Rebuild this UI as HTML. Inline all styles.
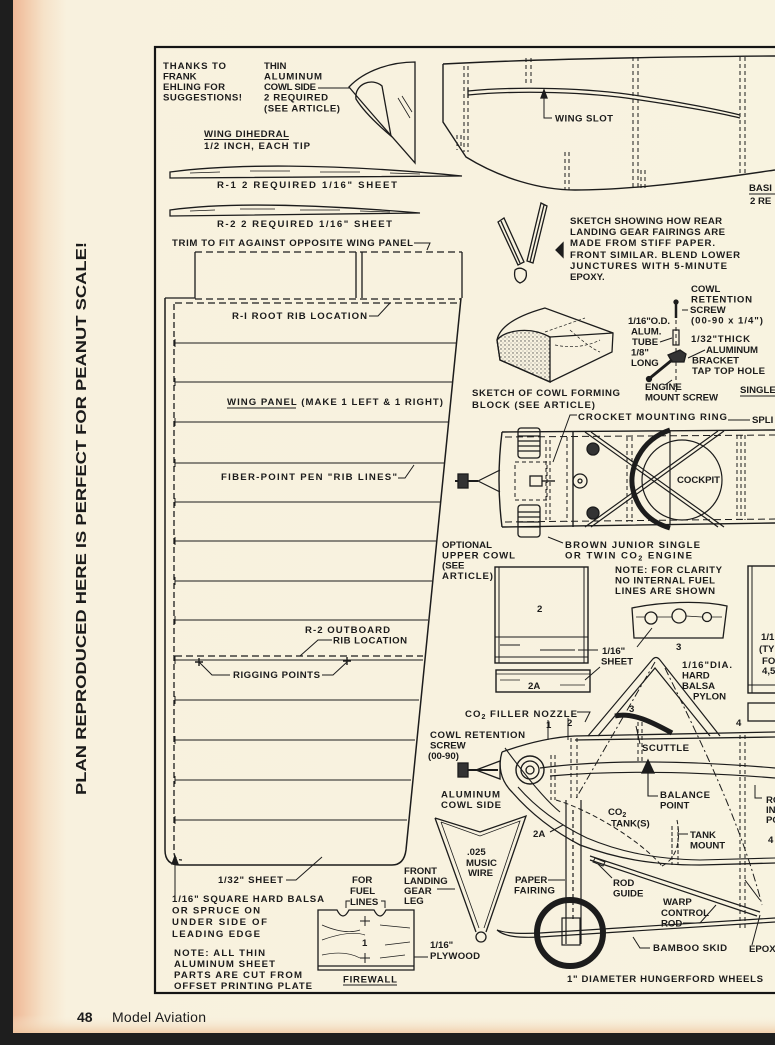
<!DOCTYPE html>
<html><head><meta charset="utf-8"><style>
html,body{margin:0;padding:0;background:#1e1e1e;}
svg{display:block;}
.t{font-family:"Liberation Sans",sans-serif;font-weight:bold;font-size:9.6px;fill:#1b1b1b;}
.s{font-family:"Liberation Sans",sans-serif;font-weight:bold;font-size:7px;fill:#1b1b1b;}
</style></head><body>
<svg width="775" height="1045" viewBox="0 0 775 1045" xmlns="http://www.w3.org/2000/svg">
<defs>
<linearGradient id="lg" x1="0" x2="1" y1="0" y2="0">
<stop offset="0" stop-color="#eeb796"/><stop offset="0.015" stop-color="#f2c8a8"/><stop offset="0.04" stop-color="#f6e2c8"/><stop offset="0.07" stop-color="#f8f1de"/><stop offset="1" stop-color="#f8f3e0"/>
</linearGradient>
<linearGradient id="bg" x1="0" x2="0" y1="0" y2="1">
<stop offset="0" stop-color="#f8f3e0" stop-opacity="0"/><stop offset="1" stop-color="#efc6a0" stop-opacity="0.8"/>
</linearGradient>
<pattern id="dots" width="4" height="4" patternUnits="userSpaceOnUse"><circle cx="1" cy="1" r="0.7" fill="#555"/><circle cx="3" cy="3" r="0.5" fill="#777"/></pattern>
</defs>
<rect x="0" y="0" width="775" height="1045" fill="#1e1e1e"/>
<rect x="13" y="0" width="762" height="1033" fill="url(#lg)"/>
<rect x="13" y="1015" width="762" height="18" fill="url(#bg)"/>

<!-- vertical title -->
<text class="t" transform="translate(86,795) rotate(-90)" style="font-size:15px" textLength="553" lengthAdjust="spacingAndGlyphs">PLAN REPRODUCED HERE IS PERFECT FOR PEANUT SCALE!</text>

<!-- footer -->
<text x="77" y="1022" style="font-family:'Liberation Sans',sans-serif;font-weight:bold;font-size:14px;fill:#1b1b1b">48</text>
<text x="112" y="1022" style="font-family:'Liberation Sans',sans-serif;font-size:14px;fill:#1b1b1b" textLength="94">Model Aviation</text>

<!-- frame -->
<rect x="155" y="47" width="700" height="946" fill="none" stroke="#151515" stroke-width="2.2"/>

<g fill="none" stroke="#1c1c1c" stroke-width="1.3">
<!-- cowl side top-left -->
<path d="M349,87 C 365,70 392,62 415,62 L415,163 C 395,140 370,112 349,87 Z"/>
<path d="M356,99 C 354,84 372,77 382,86 L391,136 C 378,125 364,112 356,99 Z"/>
<path d="M398,98 L410,118 M402,96 L412,112" stroke-width="0.8"/>
<path d="M318,88 L350,88" stroke-width="1"/>
<!-- airfoils -->
<path d="M170,178 L170,172 C 230,164 330,163 462,176 C 360,176 260,177 170,178 Z"/>
<path d="M190,173 L220,172 M250,171 L290,171 M320,172 L360,172 M390,173 L420,174" stroke-width="0.8"/>
<path d="M170,216 L170,210 C 220,203 300,203 420,213 C 340,214 260,215 170,216 Z"/>
<path d="M190,211 L215,210 M240,209 L275,209 M300,210 L340,210 M360,211 L390,212" stroke-width="0.8"/>
<path d="M204,139.5 L289,139.5" stroke-width="1"/>
<!-- trim leader -->
<path d="M414,243 L430,243 L427,250" stroke-width="1"/>
<!-- wing panel top box -->
<path d="M195,252 L195,298 L165,298 M462,252 L462,298 M356,252 L356,298 M362,252 L362,298"/>
<path d="M195,252 L462,252" stroke-dasharray="7 4"/>
<path d="M195,299 L461,299 M175,303 L461,303" stroke-dasharray="7 4"/>
<!-- panel outline -->
<path d="M165,298 L165,850 Q165,865 180,865 L392,865 Q404,865 406,850 L461,298" stroke-width="1.5"/>
<path d="M174,304 L174,852 Q174,860 182,860" stroke-dasharray="6 3"/>
<!-- rib lines -->
<path d="M175,343 L456,343 M175,382 L452,382 M175,422 L448,422 M175,463 L444,463 M175,502 L440,502 M175,541 L436,541 M175,581 L432,581 M175,620 L428,620 M175,660 L423,660 M175,700 L419,700 M175,740 L415,740 M175,780 L411,780 M175,820 L407,820" stroke-width="1.1"/>
<path d="M175,339 L175,347 M175,378 L175,386 M175,418 L175,426 M175,459 L175,467 M175,498 L175,506 M175,537 L175,545 M175,577 L175,585 M175,616 L175,624 M175,656 L175,664 M175,696 L175,704 M175,736 L175,744 M175,776 L175,784 M175,816 L175,824" stroke-width="1"/>
<path d="M175,656 L423,656" stroke-dasharray="7 4"/>
<!-- leaders in panel -->
<path d="M369,316 L378,316 L390,303" stroke-width="1"/>
<path d="M227,408 L296,408" stroke-width="1"/>
<path d="M398,478 L405,478 L414,465" stroke-width="1"/>
<path d="M332,640 L318,640 L300,656" stroke-width="1"/>
<path d="M230,675 L212,675 L199,662 M322,675 L333,675 L347,662" stroke-width="1"/>
<path d="M195,662 L203,662 M199,658 L199,666 M343,661 L351,661 M347,657 L347,665" stroke-width="1.4"/>
<path d="M286,880 L296,880 L322,857" stroke-width="1"/>
<path d="M175,897 L175,858" stroke-width="1"/>
<path d="M172,864 L175,856 L178,864 Z" fill="#1c1c1c"/>
<!-- firewall -->
<path d="M318,910 L337,910 Q343,922 349,910 L374,910 Q380,922 386,910 L414,910 L414,970 L318,970 Z"/>
<path d="M318,966 L414,966"/>
<path d="M322,925 Q345,935 360,930 M322,940 Q350,930 365,935 M380,925 L410,928 M385,945 L410,942 M322,955 Q345,950 360,958 M380,958 L405,955" stroke-width="0.7"/>
<path d="M360,921 L370,921 M365,916 L365,926 M360,958 L370,958 M365,953 L365,963" stroke-width="1"/>
<path d="M343,985 L397,985" stroke-width="1"/>
<path d="M346,908 L346,901 L350,901 M385,908 L385,901 L381,901" stroke-width="1"/>
<path d="M414,957 L428,957" stroke-width="1"/>
<path d="M437,889 L455,889" stroke-width="1"/>
<!-- music wire -->
<path d="M435,818 L480,832 L526,816 L486,932 M435,818 L476,932"/>
<path d="M441,822 L480,836 L520,821 L484,928 M441,822 L479,928" stroke-width="0.8"/>
<circle cx="481" cy="937" r="5"/>

<!-- side view fuselage top -->
<path d="M443,64 C 520,60 640,57 775,56" stroke-width="1.4"/>
<path d="M443,64 L443,122 L466,157 C 500,178 540,190 575,190 C 640,190 720,178 775,170" stroke-width="1.4"/>
<path d="M468,91 C 520,86 590,88 640,96 C 680,102 720,110 740,115 M468,95 C 520,90 590,92 640,100 C 680,106 720,113 740,118 M468,88 L468,98"/>
<path d="M464,66 L464,152 M468,66 L468,152 M526,58 L526,86 M531,58 L531,86 M633,57 L633,190 M638,57 L638,190 M740,57 L740,173 M745,57 L745,173 M565,152 L565,190 M569,152 L569,190 M641,170 L641,190 M645,170 L645,190 M457,135 L457,150 M461,135 L461,150" stroke-dasharray="4 3" stroke-width="1"/>
<path d="M544,93 L544,118 L552,118" stroke-width="1"/>
<path d="M541,98 L544,90 L547,98 Z" fill="#1c1c1c"/>
<path d="M749,194 L775,194" stroke-width="1"/>
<!-- fairing sketches -->
<path d="M498,222 L504,218 L524,262 L518,265 Z M501,221 L520,263"/>
<path d="M541,203 L547,206 L533,263 L527,261 Z M544,205 L530,262"/>
<path d="M515,270 Q520,266 526,271 Q528,280 520,283 Q513,280 515,270 Z"/>
<path d="M563,243 L563,257 L556,250 Z" fill="#1c1c1c"/>
<!-- cowl forming block -->
<path d="M497,340 C 500,325 520,315 545,308 L613,333 L612,352 L550,382 L500,360 Z"/>
<path d="M497,340 C 505,330 530,326 550,337 L550,382 L500,360 Z" fill="url(#dots)"/>
<path d="M550,337 L613,333"/>
<path d="M545,332 L585,318 M555,345 Q580,350 600,340 M570,330 Q590,348 600,352" stroke-width="0.7" stroke-dasharray="3 2"/>
<!-- screw detail -->
<path d="M676,303 L676,318" stroke-width="2.5"/>
<circle cx="676" cy="302" r="2" fill="#1c1c1c"/>
<path d="M676,320 L676,392" stroke-dasharray="4 3" stroke-width="1"/>
<rect x="673" y="330" width="6" height="15" stroke-width="1.2"/>
<path d="M668,355 L680,350 L686,354 L684,362 L672,362 Z" fill="#333"/>
<path d="M650,378 L672,360" stroke-width="3"/>
<circle cx="649" cy="379" r="2.5" fill="#1c1c1c"/>
<path d="M660,342 L672,338 M688,310 L682,310 M705,350 L688,358 M672,380 L665,385" stroke-width="1"/>
<path d="M740,396 L775,396" stroke-width="1"/>

<!-- top view fuselage -->
<path d="M502,432 L775,430 M502,527 L775,523" stroke-width="1.4"/>
<path d="M502,432 Q496,480 502,527" stroke-width="1.4"/>
<path d="M505,437 L775,435 M505,522 L775,519" stroke-dasharray="7 4" stroke-width="1"/>
<path d="M573,432 L573,527" stroke-width="1.4"/>
<path d="M546,440 L546,520 M550,440 L550,520 M567,437 L567,522 M627,437 L627,522 M632,437 L632,522 M737,435 L737,520 M741,435 L741,520 M745,435 L745,520" stroke-dasharray="4 3" stroke-width="1"/>
<path d="M670,431 L670,525" stroke-width="1.2"/>
<path d="M585,432 L718,527 M585,527 L718,431 M591,432 L724,527 M591,527 L724,431" stroke-width="1.2"/>
<path d="M670,430 C 640,440 628,470 633,490 C 638,510 650,522 670,528" stroke-width="5"/>
<circle cx="682" cy="480" r="40" stroke-width="1.2"/>
<circle cx="593" cy="449" r="6" fill="#333"/>
<circle cx="593" cy="513" r="6" fill="#333"/>
<circle cx="580" cy="481" r="7"/>
<circle cx="580" cy="481" r="2"/>
<!-- engine top view -->
<rect x="518" y="428" width="22" height="30" rx="3"/>
<path d="M518,436 L540,436 M518,441 L540,441 M518,446 L540,446 M518,451 L540,451" stroke-width="1.2"/>
<rect x="518" y="505" width="22" height="32" rx="3"/>
<path d="M518,512 L540,512 M518,517 L540,517 M518,522 L540,522 M518,527 L540,527" stroke-width="1.2"/>
<rect x="515" y="462" width="32" height="38" stroke-dasharray="4 3" stroke-width="1"/>
<rect x="530" y="476" width="12" height="10"/>
<path d="M542,481 L555,481" stroke-width="1.4"/>
<path d="M455,481 L478,481" stroke-width="2"/>
<rect x="458" y="474" width="10" height="14" fill="#333"/>
<path d="M478,481 L500,470 M478,481 L500,492" stroke-width="1.2"/>
<path d="M563,543 L548,537 M577,415 L570,415 L553,462 M728,420 L750,420" stroke-width="1"/>

<!-- box 2 -->
<rect x="495" y="567" width="93" height="96" stroke-width="1.4"/>
<path d="M499,567 L499,663 M584,567 L584,663 M495,637 L588,637 M495,657 L588,657 M500,645 L520,645 M540,650 L575,650" stroke-width="1"/>
<rect x="496" y="670" width="94" height="22" stroke-width="1.4"/>
<path d="M496,674 L590,674 M500,680 L520,680 M560,685 L585,685" stroke-width="0.8"/>
<path d="M598,650 L578,650 M637,647 L652,628 M600,667 L585,680" stroke-width="1"/>
<!-- instrument panel -->
<path d="M632,608 C 660,602 700,600 727,606 L723,638 L634,638 Z" stroke-width="1.3"/>
<circle cx="651" cy="618" r="6"/><circle cx="679" cy="616" r="7"/><circle cx="707" cy="617" r="4.5"/>
<path d="M636,617 L645,617 M657,617 L672,617 M686,616 L702,617 M712,617 L722,617" stroke-width="0.8"/>
<!-- right partial boxes -->
<rect x="748" y="566" width="40" height="127" stroke-width="1.4"/>
<path d="M752,566 L752,693 M748,685 L780,685" stroke-width="1"/>
<rect x="748" y="703" width="40" height="18" stroke-width="1.3"/>

<!-- side view lower -->
<path d="M502,752 C 530,742 555,737 575,736 L775,732 M575,740 L775,737" stroke-width="1.3"/>
<path d="M540,768 C 600,760 680,760 775,768 M550,776 C 620,770 700,772 775,778" stroke-width="1.2"/>
<path d="M502,752 C 498,765 500,780 512,792 C 532,815 555,832 580,845 C 615,858 650,865 700,865 L775,863" stroke-width="1.3"/>
<path d="M518,787 C 538,810 562,826 587,838 C 620,852 655,859 700,860 L775,858" stroke-width="1.1"/>
<path d="M505,748 C 525,775 545,800 560,812" stroke-width="1.1"/>
<circle cx="530" cy="770" r="14" stroke-width="1.4"/>
<circle cx="530" cy="770" r="9"/><circle cx="530" cy="770" r="4"/>
<path d="M462,770 L498,770" stroke-width="2"/>
<rect x="458" y="763" width="10" height="14" fill="#333"/>
<path d="M476,770 L500,761 L500,779 Z"/>
<path d="M588,736 L652,660 Q656,655 660,660 L720,736 M598,736 L655,668 L710,736" stroke-width="1.2"/>
<path d="M615,716 C 632,712 652,722 672,733" stroke-width="5"/>
<path d="M551,755 L551,800 M555,755 L555,800 M571,738 L571,800 M577,738 L577,800 M638,722 L638,762 M642,722 L642,762 M740,735 L740,930 M745,735 L745,930" stroke-dasharray="4 3" stroke-width="1"/>
<path d="M655,662 L575,800 M665,668 C 700,740 740,820 762,905" stroke-dasharray="8 3 2 3" stroke-width="1"/>
<path d="M648,760 L642,773 L654,773 Z" fill="#1c1c1c"/>
<path d="M648,773 L648,796 L658,796" stroke-width="1.1"/>
<path d="M556,800 C 590,810 640,840 662,866 M662,866 C 674,860 682,845 677,820" stroke-dasharray="5 3" stroke-width="1"/>
<path d="M672,826 L672,865 M678,826 L678,865" stroke-dasharray="4 2" stroke-width="1"/>
<path d="M640,744 L636,726 M688,834 L678,834 M762,798 L755,798 L755,785" stroke-width="1"/>
<path d="M577,712 L590,712 L585,722 M548,720 L548,740 M568,718 L568,740" stroke-width="1"/>
<!-- landing gear, wheel, skid -->
<path d="M566,800 L566,944 M581,800 L581,944" stroke-width="1.2"/>
<path d="M573,810 L573,920" stroke-dasharray="4 3" stroke-width="1.2"/>
<rect x="562" y="918" width="18" height="27" stroke-width="1.2"/>
<path d="M497,930 C 505,937 520,938 540,937 L775,922 M497,930 C 505,933 520,934 540,933 L775,918" stroke-width="1.2"/>
<circle cx="570" cy="933" r="33" stroke-width="6"/>
<path d="M590,856 L760,912 M590,860 L757,916" stroke-width="1.2"/>
<path d="M595,858 L605,862 L603,866 L593,862 Z" stroke-width="1"/>
<path d="M612,878 L598,864 M683,923 L700,923 L716,905 M650,948 L640,948 L633,937 M548,880 L565,880 M550,832 L563,825" stroke-width="1"/>
<path d="M752,945 L760,915 M760,900 L745,880" stroke-width="1"/>
</g>

<!-- TEXT -->
<g class="t">
<text class="t" x="163" y="69" textLength="63">THANKS TO</text>
<text class="t" x="163" y="79.5">FRANK</text>
<text class="t" x="163" y="90" textLength="62">EHLING FOR</text>
<text class="t" x="163" y="100.5" textLength="79">SUGGESTIONS!</text>
<text class="t" x="264" y="69">THIN</text>
<text class="t" x="264" y="79.5" textLength="58">ALUMINUM</text>
<text class="t" x="264" y="90" textLength="52">COWL SIDE</text>
<text class="t" x="264" y="100.5" textLength="64">2 REQUIRED</text>
<text class="t" x="264" y="111.5" textLength="76">(SEE ARTICLE)</text>
<text class="t" x="204" y="137" textLength="85">WING DIHEDRAL</text>
<text class="t" x="204" y="149" textLength="106">1/2 INCH, EACH TIP</text>
<text class="t" x="217" y="188" textLength="180">R-1  2 REQUIRED   1/16" SHEET</text>
<text class="t" x="217" y="227" textLength="175">R-2  2 REQUIRED  1/16" SHEET</text>
<text class="t" x="172" y="246" textLength="241">TRIM TO FIT AGAINST OPPOSITE WING PANEL</text>
<text class="t" x="232" y="319" textLength="135">R-I ROOT RIB LOCATION</text>
<text class="t" x="227" y="405" textLength="216">WING PANEL  (MAKE 1 LEFT &amp; 1 RIGHT)</text>
<text class="t" x="221" y="480" textLength="176">FIBER-POINT PEN "RIB LINES"</text>
<text class="t" x="305" y="633" textLength="85">R-2  OUTBOARD</text>
<text class="t" x="333" y="643.5" textLength="74">RIB LOCATION</text>
<text class="t" x="233" y="678" textLength="87">RIGGING POINTS</text>
<text class="t" x="218" y="883" textLength="65">1/32" SHEET</text>
<text class="t" x="172" y="902" textLength="152">1/16" SQUARE HARD BALSA</text>
<text class="t" x="172" y="913.5" textLength="88">OR SPRUCE ON</text>
<text class="t" x="172" y="925" textLength="95">UNDER SIDE OF</text>
<text class="t" x="172" y="937" textLength="88">LEADING EDGE</text>
<text class="t" x="174" y="956" textLength="91">NOTE: ALL THIN</text>
<text class="t" x="174" y="967" textLength="101">ALUMINUM SHEET</text>
<text class="t" x="174" y="978" textLength="128">PARTS ARE CUT FROM</text>
<text class="t" x="174" y="989" textLength="138">OFFSET PRINTING PLATE</text>
<text class="t" x="352" y="883">FOR</text>
<text class="t" x="350" y="894">FUEL</text>
<text class="t" x="350" y="905">LINES</text>
<text class="t" x="343" y="982.5" textLength="54">FIREWALL</text>
<text class="t" x="362" y="946">1</text>
<text class="t" x="404" y="874">FRONT</text>
<text class="t" x="404" y="884">LANDING</text>
<text class="t" x="404" y="894">GEAR</text>
<text class="t" x="404" y="904">LEG</text>
<text class="t" x="467" y="855">.025</text>
<text class="t" x="466" y="866">MUSIC</text>
<text class="t" x="468" y="876">WIRE</text>
<text class="t" x="430" y="948">1/16"</text>
<text class="t" x="430" y="959" textLength="50">PLYWOOD</text>
<text class="t" x="515" y="883">PAPER</text>
<text class="t" x="514" y="893.5" textLength="41">FAIRING</text>
<text class="t" x="533" y="837">2A</text>
<text class="t" x="613" y="886">ROD</text>
<text class="t" x="613" y="896.5">GUIDE</text>
<text class="t" x="663" y="905">WARP</text>
<text class="t" x="661" y="916" textLength="48">CONTROL</text>
<text class="t" x="661" y="926.5">ROD</text>
<text class="t" x="608" y="815">CO<tspan class="s" dy="2">2</tspan></text>
<text class="t" x="611" y="826.5">TANK(S)</text>
<text class="t" x="690" y="838">TANK</text>
<text class="t" x="690" y="848.5">MOUNT</text>
<text class="t" x="660" y="798" textLength="50">BALANCE</text>
<text class="t" x="660" y="808.5">POINT</text>
<text class="t" x="642" y="751" textLength="47">SCUTTLE</text>
<text class="t" x="430" y="738" textLength="95">COWL RETENTION</text>
<text class="t" x="430" y="748.5">SCREW</text>
<text class="t" x="428" y="759">(00-90)</text>
<text class="t" x="441" y="797.5" textLength="59">ALUMINUM</text>
<text class="t" x="441" y="808" textLength="60">COWL SIDE</text>
<text class="t" x="465" y="717" textLength="112">CO<tspan class="s" dy="2">2</tspan><tspan dy="-2"> FILLER NOZZLE</tspan></text>
<text class="t" x="546" y="728">1</text>
<text class="t" x="567" y="726">2</text>
<text class="t" x="629" y="712">3</text>
<text class="t" x="736" y="726">4</text>
<text class="t" x="676" y="650">3</text>
<text class="t" x="682" y="668" textLength="50">1/16"DIA.</text>
<text class="t" x="682" y="678.5">HARD</text>
<text class="t" x="682" y="689">BALSA</text>
<text class="t" x="693" y="699.5">PYLON</text>
<text class="t" x="602" y="654">1/16"</text>
<text class="t" x="601" y="664.5">SHEET</text>
<text class="t" x="537" y="612">2</text>
<text class="t" x="528" y="689">2A</text>
<text class="t" x="615" y="573" textLength="107">NOTE: FOR CLARITY</text>
<text class="t" x="615" y="583.5" textLength="100">NO INTERNAL FUEL</text>
<text class="t" x="615" y="594" textLength="100">LINES ARE SHOWN</text>
<text class="t" x="761" y="640">1/1</text>
<text class="t" x="759" y="652">(TY</text>
<text class="t" x="762" y="664">FO</text>
<text class="t" x="762" y="674">4,5</text>
<text class="t" x="766" y="803">RO</text>
<text class="t" x="766" y="813">IN</text>
<text class="t" x="766" y="823">PO</text>
<text class="t" x="768" y="843">4</text>
<text class="t" x="442" y="548" textLength="50">OPTIONAL</text>
<text class="t" x="442" y="558.5" textLength="73">UPPER COWL</text>
<text class="t" x="442" y="568.5">(SEE</text>
<text class="t" x="442" y="579" textLength="51">ARTICLE)</text>
<text class="t" x="565" y="548" textLength="135">BROWN JUNIOR SINGLE</text>
<text class="t" x="565" y="558.5" textLength="127">OR TWIN CO<tspan class="s" dy="2">2</tspan><tspan dy="-2"> ENGINE</tspan></text>
<text class="t" x="578" y="420" textLength="149">CROCKET MOUNTING RING</text>
<text class="t" x="752" y="423">SPLI</text>
<text class="t" x="677" y="483" textLength="43">COCKPIT</text>
<text class="t" x="472" y="396" textLength="148">SKETCH OF COWL FORMING</text>
<text class="t" x="472" y="408" textLength="123">BLOCK (SEE ARTICLE)</text>
<text class="t" x="645" y="390">ENGINE</text>
<text class="t" x="645" y="400.5" textLength="73">MOUNT SCREW</text>
<text class="t" x="691" y="292">COWL</text>
<text class="t" x="691" y="302.5" textLength="61">RETENTION</text>
<text class="t" x="690" y="313">SCREW</text>
<text class="t" x="691" y="323.5" textLength="72">(00-90 x 1/4")</text>
<text class="t" x="628" y="324" textLength="42">1/16"O.D.</text>
<text class="t" x="631" y="334.5">ALUM.</text>
<text class="t" x="632" y="345">TUBE</text>
<text class="t" x="631" y="355.5">1/8"</text>
<text class="t" x="631" y="366">LONG</text>
<text class="t" x="691" y="342" textLength="59">1/32"THICK</text>
<text class="t" x="706" y="353" textLength="52">ALUMINUM</text>
<text class="t" x="692" y="363.5" textLength="47">BRACKET</text>
<text class="t" x="692" y="374" textLength="73">TAP TOP HOLE</text>
<text class="t" x="740" y="393">SINGLE</text>
<text class="t" x="749" y="191">BASI</text>
<text class="t" x="750" y="204">2 RE</text>
<text class="t" x="570" y="224" textLength="152">SKETCH SHOWING HOW REAR</text>
<text class="t" x="570" y="235" textLength="155">LANDING GEAR FAIRINGS ARE</text>
<text class="t" x="570" y="246" textLength="145">MADE FROM STIFF PAPER.</text>
<text class="t" x="570" y="258" textLength="170">FRONT SIMILAR.  BLEND LOWER</text>
<text class="t" x="570" y="269" textLength="157">JUNCTURES WITH  5-MINUTE</text>
<text class="t" x="570" y="280">EPOXY.</text>
<text class="t" x="555" y="121.5" textLength="58">WING SLOT</text>
<text class="t" x="567" y="982" textLength="196">1" DIAMETER  HUNGERFORD WHEELS</text>
<text class="t" x="653" y="951" textLength="74">BAMBOO SKID</text>
<text class="t" x="749" y="952">EPOX</text>
</g>
</svg>
</body></html>
